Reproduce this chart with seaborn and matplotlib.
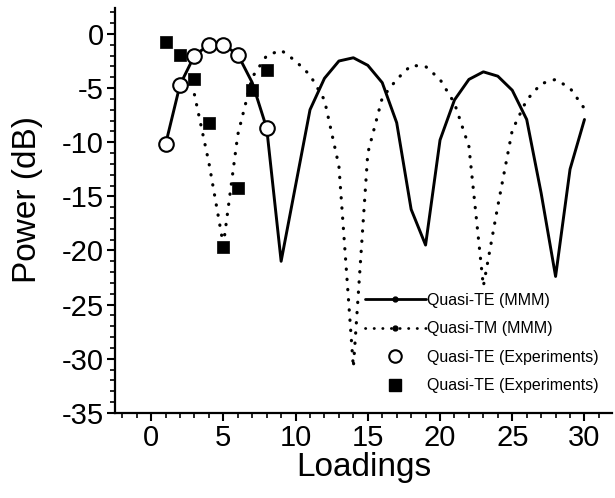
import matplotlib
matplotlib.use("Agg")
import matplotlib.pyplot as plt
from matplotlib.lines import Line2D
from matplotlib.ticker import MultipleLocator
import seaborn as sns
import pandas as pd

# ---- data ----
te_x = list(range(1, 31))
te_mmm = [-10.2, -4.7, -2.0, -1.0, -1.0, -1.9, -4.5, -8.7, -21.0, -14.0,
          -7.0, -4.1, -2.5, -2.2, -2.9, -4.5, -8.2, -16.2, -19.5, -9.8,
          -6.1, -4.2, -3.5, -3.9, -5.2, -7.9, -14.7, -22.4, -12.5, -7.9]

tm_x = list(range(3, 31))
tm_mmm = [-5.6, -11.9, -19.5, -9.3, -4.0, -2.0, -1.5, -2.5, -3.8, -6.1,
          -12.2, -30.8, -11.0, -5.9, -4.2, -2.9, -3.0, -4.2, -6.4, -10.4,
          -23.3, -15.9, -8.9, -6.1, -4.6, -4.2, -5.0, -6.9]

exp_te_x = [1, 2, 3, 4, 5, 6, 8]
exp_te = [-10.2, -4.7, -2.0, -1.0, -1.0, -1.9, -8.7]

exp_sq_x = [1, 2, 3, 4, 5, 6, 7, 8]
exp_sq = [-0.7, -1.9, -4.2, -8.2, -19.7, -14.2, -5.2, -3.3]

labels = ["Quasi-TE (MMM)", "Quasi-TM (MMM)",
          "Quasi-TE (Experiments)", "Quasi-TE (Experiments)"]

x_label = "Loadings"
y_label = "Power (dB)"

# ---- style ----
sns.set_theme(style="ticks")
plt.rcParams["font.family"] = ["Liberation Sans", "DejaVu Sans"]
plt.rcParams["axes.unicode_minus"] = False
plt.rcParams["text.color"] = "black"
plt.rcParams["axes.labelcolor"] = "black"
plt.rcParams["xtick.color"] = "black"
plt.rcParams["ytick.color"] = "black"
plt.rcParams["axes.edgecolor"] = "black"

fig = plt.figure(figsize=(6.15, 4.98), dpi=100)
ax = fig.add_axes([0.187, 0.171, 0.808, 0.813])

df_te = pd.DataFrame({"x": te_x, "y": te_mmm})
df_tm = pd.DataFrame({"x": tm_x, "y": tm_mmm})
df_c = pd.DataFrame({"x": exp_te_x, "y": exp_te})
df_s = pd.DataFrame({"x": exp_sq_x, "y": exp_sq})

sns.lineplot(data=df_te, x="x", y="y", ax=ax, color="black", lw=2.1,
             estimator=None, sort=False)
sns.lineplot(data=df_tm, x="x", y="y", ax=ax, color="black", lw=2.3,
             estimator=None, sort=False)
ax.lines[1].set_dashes((0.1, 3.1))
ax.lines[1].set_dash_capstyle("round")

sns.scatterplot(data=df_s, x="x", y="y", ax=ax, marker="s", s=80,
                color="black", edgecolor="black", linewidth=0.5, zorder=4)
sns.scatterplot(data=df_c, x="x", y="y", ax=ax, marker="o", s=110,
                facecolor="white", edgecolor="black", linewidth=1.5, zorder=5)

ax.set_xlim(-2.5, 31.9)
ax.set_ylim(-35, 2.4)
ax.xaxis.set_major_locator(MultipleLocator(5))
ax.xaxis.set_minor_locator(MultipleLocator(1))
ax.yaxis.set_major_locator(MultipleLocator(5))
ax.yaxis.set_minor_locator(MultipleLocator(1))
ax.tick_params(which="major", direction="out", length=6, width=1.5,
               labelsize=21, color="black", labelcolor="black", pad=2)
ax.tick_params(which="minor", direction="out", length=3.5, width=1.2,
               color="black")
for s in ["top", "right"]:
    ax.spines[s].set_visible(False)
for s in ["left", "bottom"]:
    ax.spines[s].set_linewidth(1.6)
    ax.spines[s].set_color("black")

ax.set_xlabel(x_label, fontsize=24, labelpad=0, color="black")
ax.set_ylabel(y_label, fontsize=24, color="black")
ax.yaxis.set_label_coords(-0.145, 0.526)

handles = [
    Line2D([], [], color="black", lw=2.0, marker="o", markersize=3.5),
    Line2D([], [], color="black", lw=2.0, dashes=(0.1, 3.0),
           dash_capstyle="round", marker="o", markersize=3.5),
    Line2D([], [], ls="none", marker="o", markersize=9, markerfacecolor="white",
           markeredgecolor="black", markeredgewidth=1.5),
    Line2D([], [], ls="none", marker="s", markersize=8, color="black"),
]
leg = ax.legend(handles, labels, loc="center", frameon=False, fontsize=11.5,
                handlelength=3.8, handletextpad=0.1, labelspacing=0.85,
                borderpad=0, numpoints=1,
                bbox_to_anchor=(482 / 615, 1 - 343 / 498),
                bbox_transform=fig.transFigure)
for t in leg.get_texts():
    t.set_color("black")

fig.savefig("out.png", dpi=100)
